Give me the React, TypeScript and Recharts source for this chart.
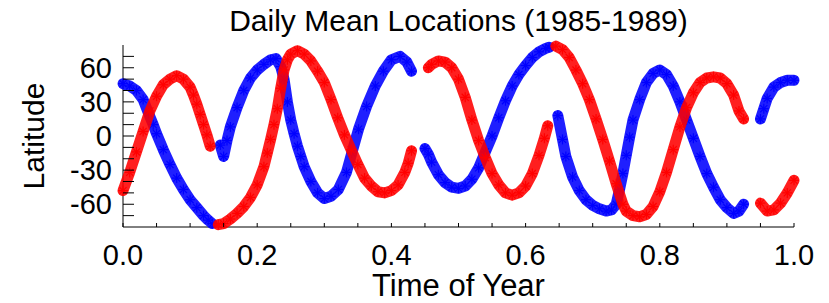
import React from 'react';
import { ScatterChart, Scatter, XAxis, YAxis } from 'recharts';

// axis ticks
const xTicks = [0, 0.05, 0.1, 0.15, 0.2, 0.25, 0.3, 0.35, 0.4, 0.45, 0.5, 0.55, 0.6, 0.65, 0.7, 0.75, 0.8, 0.85, 0.9, 0.95, 1];
const xLabelTicks = [0, 0.2, 0.4, 0.6, 0.8, 1];
const yTicks = [-70, -60, -50, -40, -30, -20, -10, 0, 10, 20, 30, 40, 50, 60, 70];
const yLabelTicks = [-60, -30, 0, 30, 60];

// blue track, [time of year, latitude], one array per unbroken stretch
const blueA: [number, number][] = [
  [0, 46], [0.01, 44], [0.02, 40], [0.03, 32], [0.038, 20], [0.045, 10], [0.05, 2], [0.06, -12], [0.07, -25],
  [0.08, -37], [0.09, -47], [0.1, -56], [0.11, -63], [0.12, -70], [0.127, -74], [0.133, -77],
];
const blueB: [number, number][] = [
  [0.145, -8], [0.15, -18], [0.155, -4], [0.16, 8], [0.17, 25], [0.18, 40], [0.19, 51], [0.2, 58], [0.21, 63],
  [0.22, 67], [0.228, 68], [0.235, 61], [0.24, 50], [0.245, 30], [0.25, 14], [0.255, 2], [0.26, -9], [0.265, -18],
  [0.27, -27], [0.28, -40], [0.29, -50], [0.3, -55], [0.31, -53], [0.321, -47], [0.333, -32], [0.341, -15],
  [0.351, 6], [0.363, 26], [0.376, 44], [0.388, 57], [0.4, 67], [0.413, 70], [0.423, 65], [0.43, 57],
];
const blueC: [number, number][] = [
  [0.45, -11], [0.455, -16], [0.46, -23], [0.47, -34], [0.48, -41], [0.49, -45], [0.5, -46], [0.51, -44],
  [0.52, -38], [0.53, -28], [0.54, -14], [0.55, 0], [0.56, 16], [0.57, 31], [0.58, 44], [0.59, 54], [0.6, 62],
  [0.61, 69], [0.62, 74], [0.63, 77], [0.635, 78],
];
const blueD: [number, number][] = [
  [0.648, 18], [0.655, -3], [0.66, -18], [0.67, -36], [0.68, -48], [0.69, -56], [0.7, -61], [0.71, -64],
  [0.72, -66], [0.728, -65], [0.735, -60], [0.74, -47], [0.745, -33], [0.75, -17], [0.755, -1], [0.76, 14],
  [0.77, 32], [0.78, 47], [0.79, 55], [0.8, 58], [0.81, 54], [0.82, 44], [0.83, 30], [0.84, 14], [0.85, -2],
  [0.86, -18], [0.87, -33], [0.88, -45], [0.89, -56], [0.9, -63], [0.91, -68], [0.918, -66], [0.925, -60],
];
const blueE: [number, number][] = [
  [0.95, 15], [0.955, 24], [0.96, 33], [0.97, 43], [0.98, 47], [0.99, 49], [1, 49],
];

// red track
const redA: [number, number][] = [
  [0, -48], [0.01, -32], [0.02, -14], [0.03, 4], [0.04, 22], [0.05, 35], [0.06, 45], [0.07, 50], [0.08, 53],
  [0.09, 50], [0.1, 43], [0.105, 36], [0.11, 28], [0.115, 19], [0.12, 10], [0.125, 1], [0.13, -9],
];
const redB: [number, number][] = [
  [0.142, -78], [0.15, -77], [0.16, -73], [0.17, -68], [0.18, -62], [0.19, -54], [0.2, -43], [0.21, -27],
  [0.215, -15], [0.22, -3], [0.225, 10], [0.23, 24], [0.235, 42], [0.24, 58], [0.245, 67], [0.25, 72],
  [0.26, 75], [0.27, 72], [0.28, 66], [0.29, 57], [0.3, 47], [0.31, 32], [0.32, 16], [0.33, 1], [0.34, -12],
  [0.35, -25], [0.36, -37], [0.37, -44], [0.38, -49], [0.39, -50], [0.4, -48], [0.41, -43], [0.42, -32],
  [0.425, -24], [0.43, -13],
];
const redC: [number, number][] = [
  [0.455, 60], [0.46, 63], [0.47, 66], [0.48, 65], [0.49, 60], [0.5, 50], [0.51, 34], [0.52, 14], [0.53, -4],
  [0.54, -19], [0.55, -33], [0.56, -43], [0.57, -50], [0.58, -52], [0.59, -50], [0.6, -44], [0.61, -33],
  [0.62, -17], [0.628, -2], [0.633, 9],
];
const redD: [number, number][] = [
  [0.645, 79], [0.655, 76], [0.665, 69], [0.675, 58], [0.685, 46], [0.695, 32], [0.705, 15], [0.715, -3],
  [0.725, -22], [0.735, -42], [0.745, -60], [0.75, -66], [0.76, -70], [0.77, -71], [0.78, -69], [0.79, -62],
  [0.8, -49], [0.81, -32], [0.82, -12], [0.83, 8], [0.84, 25], [0.85, 38], [0.86, 47], [0.87, 51], [0.88, 52],
  [0.89, 51], [0.9, 46], [0.91, 36], [0.918, 22], [0.925, 15],
];
const redE: [number, number][] = [
  [0.95, -59], [0.96, -66], [0.97, -65], [0.98, -59], [0.99, -50], [1, -39],
];

const BLUE = '#0000ff';
const RED = '#ff0000';
const FONT = '"Liberation Sans", Arial, Helvetica, sans-serif';

const toPoints = (seg: [number, number][]) => seg.map(([t, v]) => ({ t, v }));

const blueSegs = [blueA, blueB, blueC, blueD, blueE];
const redSegs = [redA, redB, redC, redD, redE];

function Asterisk(props: any) {
  const { cx, cy, color } = props;
  if (cx == null || cy == null) return null;
  const r = 5;
  const d = r * 0.7071;
  return (
    <g stroke={color} strokeWidth={1.2}>
      <line x1={cx - r} y1={cy} x2={cx + r} y2={cy} />
      <line x1={cx} y1={cy - r} x2={cx} y2={cy + r} />
      <line x1={cx - d} y1={cy - d} x2={cx + d} y2={cy + d} />
      <line x1={cx - d} y1={cy + d} x2={cx + d} y2={cy - d} />
    </g>
  );
}

const isIn = (list: number[], v: number) => list.some((l) => Math.abs(l - v) < 1e-6);

const BottomTick = ({ x, y, payload }: any) => (
  <g>
    <line x1={x} y1={y} x2={x} y2={y - 4} stroke="#000" />
    {isIn(xLabelTicks, payload.value) && (
      <text x={x} y={y + 38} textAnchor="middle" fontSize={29} fontFamily={FONT} fill="#000">
        {payload.value.toFixed(1)}
      </text>
    )}
  </g>
);

const TopTick = ({ x, y }: any) => <line x1={x} y1={y} x2={x} y2={y + 4} stroke="#000" />;

const LeftTick = ({ x, y, payload }: any) => (
  <g>
    <line x1={x} y1={y} x2={x + 11} y2={y} stroke="#000" />
    {isIn(yLabelTicks, payload.value) && (
      <text x={x - 11} y={y + 10} textAnchor="end" fontSize={29} fontFamily={FONT} fill="#000">
        {payload.value}
      </text>
    )}
  </g>
);

const RightTick = ({ x, y }: any) => <line x1={x} y1={y} x2={x - 11} y2={y} stroke="#000" />;

const bandLine = (color: string) => ({
  stroke: color,
  strokeWidth: 11,
  strokeOpacity: 0.88,
  strokeLinecap: 'round',
  strokeLinejoin: 'round',
});

export default function App() {
  return (
    <div style={{ position: 'absolute', left: 0, top: 0, width: 829, height: 303, background: '#fff' }}>
      <ScatterChart width={829} height={303} margin={{ top: 45, right: 35, bottom: 0, left: 0 }}>
        <XAxis
          dataKey="t"
          type="number"
          domain={[0, 1]}
          ticks={xTicks}
          interval={0}
          height={76}
          tickSize={0}
          tickMargin={0}
          tickLine={false}
          axisLine={{ stroke: '#000' }}
          tick={<BottomTick />}
        />
        <XAxis
          xAxisId="top"
          orientation="top"
          type="number"
          domain={[0, 1]}
          ticks={xTicks}
          interval={0}
          height={0}
          tickSize={0}
          tickMargin={0}
          tickLine={false}
          axisLine={{ stroke: '#000' }}
          tick={<TopTick />}
        />
        <YAxis
          dataKey="v"
          type="number"
          domain={[-80, 80]}
          ticks={yTicks}
          interval={0}
          width={123}
          tickSize={0}
          tickMargin={0}
          tickLine={false}
          axisLine={{ stroke: '#000' }}
          tick={<LeftTick />}
        />
        <YAxis
          yAxisId="right"
          orientation="right"
          type="number"
          domain={[-80, 80]}
          ticks={yTicks}
          interval={0}
          width={0}
          tickSize={0}
          tickMargin={0}
          tickLine={false}
          axisLine={{ stroke: '#000' }}
          tick={<RightTick />}
        />
        {blueSegs.map((seg, i) => (
          <Scatter
            key={'b' + i}
            data={toPoints(seg)}
            fill={BLUE}
            line={bandLine(BLUE)}
            lineType="joint"
            shape={(p: any) => <Asterisk cx={p.cx} cy={p.cy} color={BLUE} />}
            isAnimationActive={false}
          />
        ))}
        {redSegs.map((seg, i) => (
          <Scatter
            key={'r' + i}
            data={toPoints(seg)}
            fill={RED}
            line={bandLine(RED)}
            lineType="joint"
            shape={(p: any) => <Asterisk cx={p.cx} cy={p.cy} color={RED} />}
            isAnimationActive={false}
          />
        ))}
      </ScatterChart>
      <svg width={829} height={303} style={{ position: 'absolute', left: 0, top: 0, pointerEvents: 'none' }}>
        <text x={458.5} y={31} textAnchor="middle" fontSize={30} fontFamily={FONT} fill="#000">
          Daily Mean Locations (1985-1989)
        </text>
        <text x={458.5} y={296} textAnchor="middle" fontSize={31} fontFamily={FONT} fill="#000">
          Time of Year
        </text>
        <text x={43.5} y={136} textAnchor="middle" fontSize={30} fontFamily={FONT} fill="#000" transform="rotate(-90 43.5 136)">
          Latitude
        </text>
      </svg>
    </div>
  );
}
